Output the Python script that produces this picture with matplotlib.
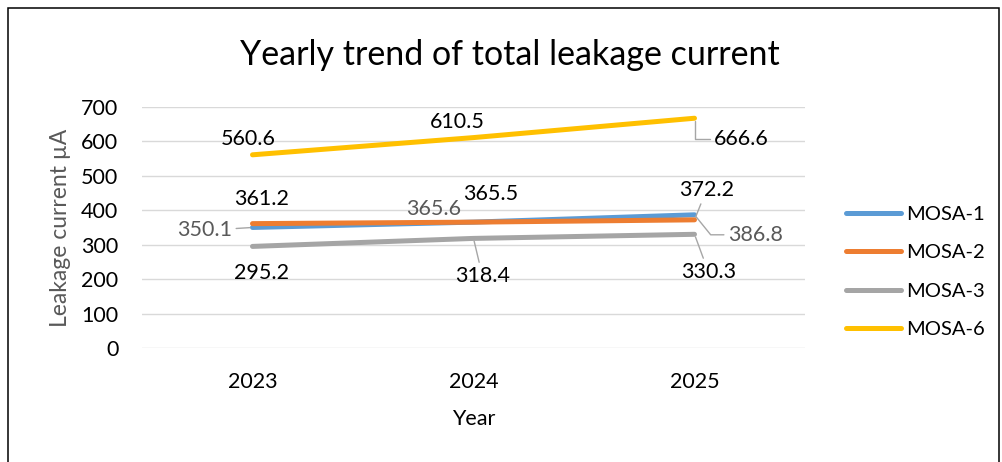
import matplotlib
matplotlib.use("Agg")
import matplotlib.pyplot as plt
from matplotlib.patches import Rectangle

plt.rcParams['font.family'] = ['Lato', 'DejaVu Sans']

# data
years = ['2023', '2024', '2025']
series_names = ['MOSA-1', 'MOSA-2', 'MOSA-3', 'MOSA-6']
mosa1 = [350.1, 365.6, 386.8]
mosa2 = [361.2, 365.5, 372.2]
mosa3 = [295.2, 318.4, 330.3]
mosa6 = [560.6, 610.5, 666.6]
yticks = [0, 100, 200, 300, 400, 500, 600, 700]

colors = ['#5B9BD5', '#ED7D31', '#A5A5A5', '#FFC000']
label_colors = ['#595959', 'black', 'black', 'black']

# label offsets in pixels (dx, dy down) from each point + leader line style (None = no leader)
straight = 'arc3'
offsets = [
    [(-48, 3, straight), (-40, -13, None), (61, 20, 'angle,angleA=0,angleB=-51,rad=0')],
    [(9, -25, None), (17, -28, None), (12, -30, straight)],
    [(9, 27, None), (9, 38, straight), (14, 38, straight)],
    [(-4, -16, None), (-16, -16, None), (47, 21, 'angle,angleA=0,angleB=90,rad=0')],
]

W, H = 1002, 462
fig = plt.figure(figsize=(W / 100, H / 100), dpi=100)
ax = fig.add_axes([142 / W, 113.7 / H, 663 / W, 241.6 / H])

x = list(range(len(years)))
all_series = [mosa1, mosa2, mosa3, mosa6]
for vals, name, c in zip(all_series, series_names, colors):
    ax.plot(x, vals, color=c, lw=3.6, solid_capstyle='round', label=name, zorder=3)

for vals, c, offs in zip(all_series, label_colors, offsets):
    for i, v in enumerate(vals):
        dx, dy, leader = offs[i]
        ap = None
        if leader:
            ap = dict(arrowstyle='-', color='#A6A6A6', lw=1.0, shrinkA=1, shrinkB=2,
                      connectionstyle=leader)
        ax.annotate(f'{v:.1f}', (x[i], v), xytext=(dx, -dy), textcoords='offset pixels',
                    ha='center', va='center', fontsize=15.5, color=c,
                    arrowprops=ap, zorder=4)

ax.set_xlim(-0.5, 2.5)
ax.set_ylim(0, 700)
ax.set_yticks(yticks)
ax.set_xticks(x)
ax.set_xticklabels(years)
ax.grid(axis='y', color='#D9D9D9', lw=1.0, zorder=0)
ax.set_axisbelow(True)
for s in ax.spines.values():
    s.set_visible(False)
ax.tick_params(length=0, labelsize=15.5, colors='black')
ax.tick_params(axis='y', pad=17)
ax.tick_params(axis='x', pad=17)

ax.set_xlabel('Year', fontsize=15.5, color='black', labelpad=12)
ax.set_ylabel('Leakage current µA', fontsize=16.5, color='#595959', labelpad=7)

fig.text(510 / W, 1 - 55 / H, 'Yearly trend of total leakage current', ha='center', va='center',
         fontsize=24.5, color='black')

leg = ax.legend(loc='center left', bbox_to_anchor=(828 / W, 1 - 272 / H), bbox_transform=fig.transFigure,
                frameon=False, fontsize=14.5, handlelength=2.7, handletextpad=0.3, labelspacing=1.05)
for ln in leg.get_lines():
    ln.set_linewidth(3.6)
    ln.set_solid_capstyle('round')

fig.add_artist(Rectangle((8 / W, -0.05), 991 / W, (454 / H) + 0.05, transform=fig.transFigure,
                         fill=False, ec='black', lw=1.1))

fig.savefig('out.png', dpi=100)
